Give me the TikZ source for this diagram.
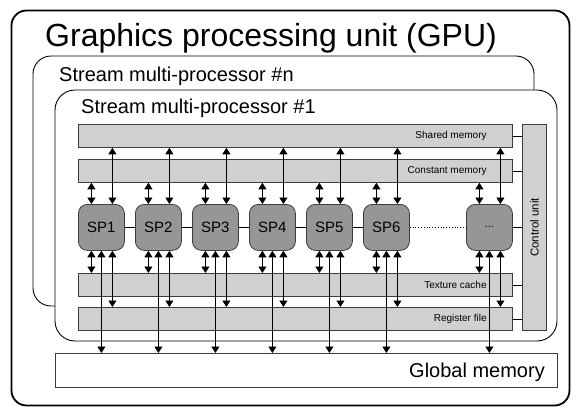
\documentclass[tikz,border=0pt]{standalone}
\usepackage{fontspec}
\setmainfont{Liberation Sans}
\usetikzlibrary{arrows.meta,calc}
\definecolor{barfill}{RGB}{208,208,208}
\definecolor{spfill}{RGB}{150,150,150}
\definecolor{edge}{RGB}{60,60,60}
\begin{document}
\begin{tikzpicture}[x=1pt,y=-1pt,
  box/.style={draw=black, fill=white, line width=0.9pt},
  bar/.style={draw=edge, fill=barfill, line width=0.8pt, inner sep=0pt, minimum height=23pt, minimum width=434pt, anchor=north west},
  barlabel/.style={anchor=east, font=\fontsize{10}{12}\selectfont, inner sep=0pt},
  spbox/.style={draw=edge, fill=spfill, line width=0.8pt, rounded corners=9pt, inner sep=0pt, minimum width=46pt, minimum height=46pt, anchor=north west, font=\fontsize{15}{18}\selectfont},
  arr/.style={line width=0.9pt, {Triangle[width=8pt,length=6.5pt]}-{Triangle[width=8pt,length=6.5pt]}},
  link/.style={line width=0.8pt, draw=black}]
\useasboundingbox (0,0) rectangle (571,407);
% enclosures
\draw[line width=1.8pt, rounded corners=15pt] (11.5,10.5) rectangle (569.5,405.5);
\node[anchor=base west, inner sep=0pt, font=\fontsize{32}{38}\selectfont] (title) at (45,46) {Graphics processing unit (GPU)};
\draw[box, rounded corners=18pt] (33,56) rectangle (534,306);
\node[anchor=base west, inner sep=0pt, font=\fontsize{20}{24}\selectfont] (smn) at (59,81) {Stream multi-processor \#n};
\draw[box, rounded corners=20pt] (55,90) rectangle (557,341);
\node[anchor=base west, inner sep=0pt, font=\fontsize{20}{24}\selectfont] (smone) at (81,113) {Stream multi-processor \#1};
% memories
\node[bar] (shared) at (78,124) {};
\node[bar] (const) at (78,159) {};
\node[bar] (tex) at (78,273) {};
\node[bar] (reg) at (78,307) {};
\node[barlabel] at ([xshift=-26pt]shared.east) {Shared memory};
\node[barlabel] at ([xshift=-26pt]const.east) {Constant memory};
\node[barlabel] at ([xshift=-26pt]tex.east) {Texture cache};
\node[barlabel] at ([xshift=-26pt]reg.east) {Register file};
\node[draw=edge, fill=barfill, line width=0.8pt, inner sep=0pt, minimum width=24pt, minimum height=206pt, anchor=north west] (ctrl) at (522,124) {};
\node[rotate=90, font=\fontsize{11.5}{14}\selectfont] at (ctrl.center) {Control unit};
\node[draw=edge, fill=white, line width=0.8pt, inner sep=0pt, minimum width=502pt, minimum height=34pt, anchor=north west] (glob) at (55,353) {};
\node[anchor=base east, inner sep=0pt, font=\fontsize{20}{24}\selectfont] at (545,377) {Global memory};
% SPs
\node[spbox] (sp1) at (78,204) {SP1};
\node[spbox] (sp2) at (135,204) {SP2};
\node[spbox] (sp3) at (192,204) {SP3};
\node[spbox] (sp4) at (249,204) {SP4};
\node[spbox] (sp5) at (306,204) {SP5};
\node[spbox] (sp6) at (363,204) {SP6};
\node[spbox, font=\fontsize{11}{13}\selectfont] (spd) at (466,204) {...};
% links
\draw[link] (sp1.east) -- (sp2.west);
\draw[link] (sp2.east) -- (sp3.west);
\draw[link] (sp3.east) -- (sp4.west);
\draw[link] (sp4.east) -- (sp5.west);
\draw[link] (sp5.east) -- (sp6.west);
\draw[link, dotted] (sp6.east) -- (spd.west);
\draw[link] (spd.east) -- (spd.east -| ctrl.west);
\draw[link] (shared.east) -- (shared.east -| ctrl.west);
\draw[link] (const.east) -- (const.east -| ctrl.west);
\draw[link] (tex.east) -- (tex.east -| ctrl.west);
\draw[link] (reg.east) -- (reg.east -| ctrl.west);
% arrows
\foreach \n in {sp1,sp2,sp3,sp4,sp5,sp6,spd}{
  \draw[arr] ([xshift=-10pt]\n.north) -- ([xshift=-10pt]\n.north |- const.south);
  \draw[arr] ([xshift=11pt]\n.north) -- ([xshift=11pt]\n.north |- shared.south);
  \draw[arr] ([xshift=-10pt]\n.south) -- ([xshift=-10pt]\n.south |- tex.north);
  \draw[arr] (\n.south) -- (\n.south |- glob.north);
  \draw[arr] ([xshift=11pt]\n.south) -- ([xshift=11pt]\n.south |- reg.north);
}
\end{tikzpicture}
\end{document}
